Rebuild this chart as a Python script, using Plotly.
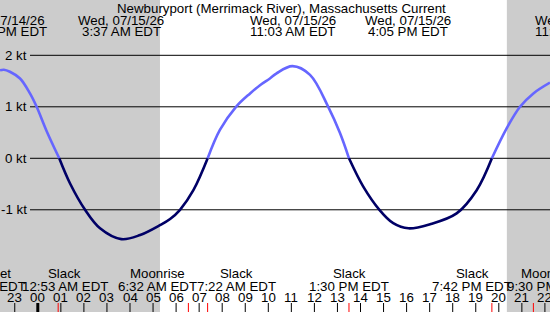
import plotly.graph_objects as go

# ---------------- data ----------------
# hours relative to 00:00 on Wed 07/15/26 (EDT), current in knots
hours = [-1.64, -1.47, -1.21, -0.77, -0.34, -0.05, 0.39, 0.93, 1.40, 2.05, 2.70,
         3.62, 4.44, 5.30, 5.74, 6.17, 6.75, 7.37, 7.90, 8.60, 9.21, 9.64, 10.07,
         10.36, 11.05, 11.81, 12.60, 13.11, 13.50, 14.12, 14.82, 15.42, 16.08,
         17.02, 18.17, 19.04, 19.70, 20.34, 20.92, 21.50, 22.22]
knots = [1.71, 1.72, 1.68, 1.55, 1.26, 1.00, 0.52, 0.00, -0.49, -1.00, -1.36,
         -1.57, -1.49, -1.30, -1.18, -1.00, -0.62, 0.00, 0.55, 1.00, 1.26, 1.42, 1.55,
         1.65, 1.79, 1.62, 1.00, 0.49, 0.00, -0.55, -1.00, -1.26, -1.36,
         -1.28, -1.07, -0.62, 0.00, 0.58, 1.00, 1.26, 1.47]

grid_kt = [2, 1, 0, -1]
grid_labels = ["2 kt", "1 kt", "0 kt", "-1 kt"]

title = "Newburyport (Merrimack River), Massachusetts Current"

# max current events (top labels)
max_times = [-1.47, 3.62, 11.05, 16.08, 23.43]
max_dates = ["Tue, 07/14/26", "Wed, 07/15/26", "Wed, 07/15/26", "Wed, 07/15/26", "Wed, 07/15/26"]
max_clock = ["10:32 PM EDT", "3:37 AM EDT", "11:03 AM EDT", "4:05 PM EDT", "11:26 PM EDT"]

# bottom events
ev_times = [-3.15, 0.883, 6.533, 7.367, 13.5, 19.7, 21.5]
ev_names = ["Moonset", "Slack", "Moonrise", "Slack", "Slack", "Slack", "Moonset"]
ev_clock = ["8:51 PM EDT", "12:53 AM EDT", "6:32 AM EDT", "7:22 AM EDT",
            "1:30 PM EDT", "7:42 PM EDT", "9:30 PM EDT"]
ev_label_at = [-2.25, 1.16, 5.21, 8.64, 13.52, 18.84, 22.09]

hour_ticks = list(range(-1, 23))
sunrise = 5.30
sunset = 20.35

# ---------------- figure ----------------
W, H = 550, 312
x_range = [-1.640, 22.221]
y_range = [-2.985, 3.074]
FONT = "Liberation Sans"
FS = 13.3


def xp(h):
    """hour -> paper fraction (lets labels sit partly outside the plot)"""
    return (h - x_range[0]) / (x_range[1] - x_range[0])


fig = go.Figure()

# split curve into flood / ebb segments at slack points
segs = []
cur_x, cur_y = [hours[0]], [knots[0]]
for h, k in zip(hours[1:], knots[1:]):
    cur_x.append(h)
    cur_y.append(k)
    if k == 0:
        segs.append((cur_x, cur_y))
        cur_x, cur_y = [h], [k]
segs.append((cur_x, cur_y))

for sx, sy in segs:
    flood = sum(sy) > 0
    fig.add_trace(go.Scatter(
        x=sx, y=sy, mode="lines",
        line=dict(color="#6666ff" if flood else "#000066", width=2.6, shape="spline", smoothing=1.0),
        hoverinfo="skip", showlegend=False))

shapes = []
# night shading
shapes.append(dict(type="rect", xref="x", yref="paper", x0=-10, x1=sunrise, y0=0, y1=1,
                   fillcolor="#cccccc", line=dict(width=0), layer="below"))
shapes.append(dict(type="rect", xref="x", yref="paper", x0=sunset, x1=40, y0=0, y1=1,
                   fillcolor="#cccccc", line=dict(width=0), layer="below"))
# gridlines
for k in grid_kt:
    shapes.append(dict(type="line", xref="paper", yref="y", x0=30 / W, x1=1, y0=k, y1=k,
                       line=dict(color="black", width=1), layer="below"))
# hour ticks
tick_y0 = 0
tick_y1 = 9 / H
for h in hour_ticks:
    shapes.append(dict(type="line", xref="x", yref="paper", x0=h, x1=h, y0=tick_y0, y1=tick_y1,
                       line=dict(color="black", width=3 if h % 24 == 0 else 1)))
for t in ev_times:
    shapes.append(dict(type="line", xref="x", yref="paper", x0=t, x1=t, y0=tick_y0, y1=tick_y1,
                       line=dict(color="red", width=1)))

ann = []
font = dict(family=FONT, size=FS, color="black")


def label(x, ypx, text, anchor="center", xref="paper", yref="paper"):
    ann.append(dict(xref=xref, yref=yref, x=x, y=ypx, text=text, showarrow=False,
                    xanchor=anchor, yanchor="middle", font=font, borderpad=0))


for k, lab in zip(grid_kt, grid_labels):
    label(28 / W, k, lab, anchor="right", yref="y")

label(281 / W, 1 - 8 / H, title)
for t, d, c in zip(max_times, max_dates, max_clock):
    label(xp(t), 1 - 20 / H, d)
    label(xp(t), 1 - 32 / H, c)

for la, n, c in zip(ev_label_at, ev_names, ev_clock):
    label(xp(la), 1 - 273 / H, n)
    label(xp(la), 1 - 286 / H, c)

for h in hour_ticks:
    label(xp(h), 1 - 297 / H, "%02d" % (h % 24))

fig.update_layout(
    width=W, height=H, margin=dict(l=0, r=0, t=0, b=0, pad=0),
    paper_bgcolor="white", plot_bgcolor="white",
    xaxis=dict(range=x_range, visible=False, fixedrange=True),
    yaxis=dict(range=y_range, visible=False, fixedrange=True),
    shapes=shapes, annotations=ann, showlegend=False,
)

fig.write_html("out.html", config={"displayModeBar": False})
